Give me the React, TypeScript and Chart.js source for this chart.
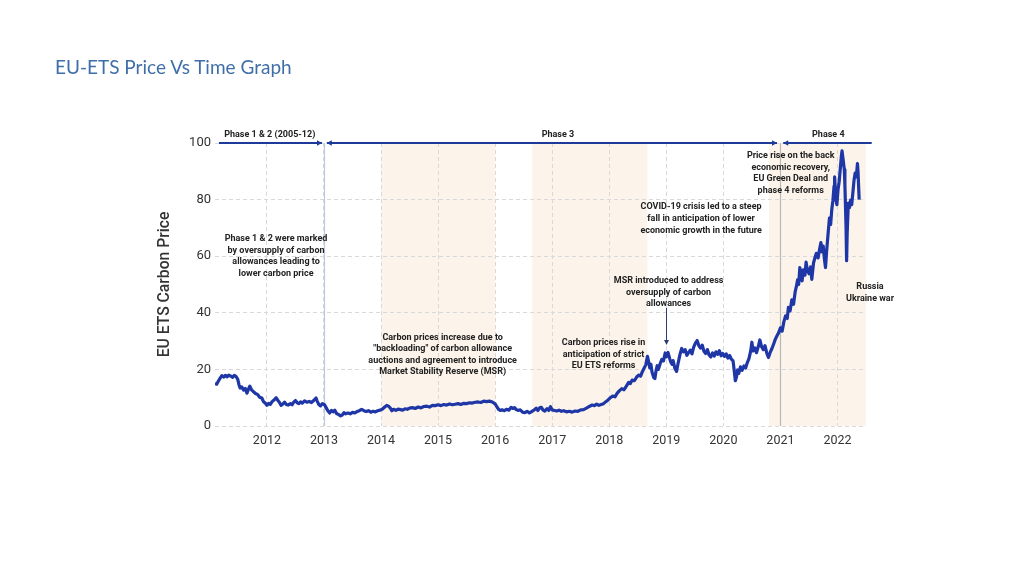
import { useEffect, useRef } from "react";
import { Chart, registerables } from "chart.js";

Chart.register(...registerables);

// ---- Data ----
const years = [
  2011.09, 2011.12, 2011.15, 2011.18, 2011.21, 2011.24, 2011.27, 2011.30, 2011.33, 2011.37,
  2011.40, 2011.43, 2011.46, 2011.49, 2011.51, 2011.53, 2011.56, 2011.59, 2011.62, 2011.65,
  2011.68, 2011.70, 2011.73, 2011.76, 2011.80, 2011.84, 2011.87, 2011.91, 2011.94, 2011.97,
  2012.00, 2012.03, 2012.06, 2012.09, 2012.13, 2012.16, 2012.19, 2012.22, 2012.25, 2012.28,
  2012.31, 2012.34, 2012.37, 2012.41, 2012.44, 2012.47, 2012.50, 2012.53, 2012.56, 2012.59,
  2012.62, 2012.66, 2012.70, 2012.74, 2012.78, 2012.82, 2012.86, 2012.88, 2012.91, 2012.94,
  2012.97, 2013.01, 2013.04, 2013.07, 2013.10, 2013.13, 2013.16, 2013.19, 2013.22, 2013.26,
  2013.29, 2013.32, 2013.35, 2013.38, 2013.42, 2013.46, 2013.50, 2013.54, 2013.58, 2013.62,
  2013.66, 2013.70, 2013.74, 2013.78, 2013.82, 2013.86, 2013.90, 2013.94, 2013.98, 2014.02,
  2014.06, 2014.10, 2014.13, 2014.16, 2014.19, 2014.22, 2014.26, 2014.30, 2014.34, 2014.38,
  2014.42, 2014.46, 2014.50, 2014.55, 2014.60, 2014.65, 2014.70, 2014.75, 2014.80, 2014.85,
  2014.90, 2014.95, 2015.00, 2015.05, 2015.10, 2015.15, 2015.20, 2015.25, 2015.30, 2015.35,
  2015.40, 2015.45, 2015.50, 2015.55, 2015.60, 2015.65, 2015.70, 2015.75, 2015.80, 2015.85,
  2015.90, 2015.95, 2016.00, 2016.03, 2016.06, 2016.09, 2016.12, 2016.16, 2016.20, 2016.24,
  2016.28, 2016.31, 2016.34, 2016.37, 2016.40, 2016.44, 2016.48, 2016.52, 2016.56, 2016.60,
  2016.64, 2016.68, 2016.72, 2016.75, 2016.78, 2016.81, 2016.84, 2016.87, 2016.91, 2016.94,
  2016.97, 2017.00, 2017.04, 2017.08, 2017.12, 2017.16, 2017.20, 2017.25, 2017.30, 2017.35,
  2017.40, 2017.45, 2017.50, 2017.55, 2017.60, 2017.65, 2017.70, 2017.74, 2017.78, 2017.82,
  2017.86, 2017.90, 2017.94, 2017.98, 2018.02, 2018.06, 2018.10, 2018.14, 2018.18, 2018.22,
  2018.26, 2018.30, 2018.34, 2018.37, 2018.40, 2018.44, 2018.48, 2018.52, 2018.55, 2018.58,
  2018.61, 2018.64, 2018.67, 2018.69, 2018.71, 2018.73, 2018.75, 2018.78, 2018.80, 2018.82,
  2018.84, 2018.86, 2018.89, 2018.92, 2018.95, 2018.98, 2019.00, 2019.03, 2019.06, 2019.08,
  2019.10, 2019.12, 2019.15, 2019.18, 2019.21, 2019.24, 2019.27, 2019.30, 2019.33, 2019.36,
  2019.39, 2019.42, 2019.45, 2019.48, 2019.51, 2019.54, 2019.57, 2019.60, 2019.63, 2019.66,
  2019.69, 2019.72, 2019.75, 2019.78, 2019.81, 2019.84, 2019.87, 2019.90, 2019.93, 2019.96,
  2019.99, 2020.02, 2020.05, 2020.08, 2020.11, 2020.14, 2020.17, 2020.19, 2020.21, 2020.23,
  2020.25, 2020.27, 2020.30, 2020.33, 2020.36, 2020.39, 2020.42, 2020.45, 2020.48, 2020.50,
  2020.52, 2020.55, 2020.58, 2020.61, 2020.64, 2020.67, 2020.70, 2020.73, 2020.76, 2020.79,
  2020.82, 2020.85, 2020.88, 2020.91, 2020.94, 2020.97, 2021.00, 2021.03, 2021.06, 2021.09,
  2021.12, 2021.14, 2021.17, 2021.20, 2021.23, 2021.26, 2021.28, 2021.30, 2021.32, 2021.34,
  2021.36, 2021.38, 2021.40, 2021.43, 2021.45, 2021.47, 2021.50, 2021.53, 2021.55, 2021.58,
  2021.61, 2021.63, 2021.66, 2021.69, 2021.71, 2021.73, 2021.75, 2021.77, 2021.79, 2021.81,
  2021.84, 2021.86, 2021.88, 2021.90, 2021.92, 2021.94, 2021.95, 2021.97, 2021.99, 2022.01,
  2022.03, 2022.05, 2022.07, 2022.08, 2022.10, 2022.12, 2022.13, 2022.15, 2022.16, 2022.17,
  2022.19, 2022.21, 2022.23, 2022.25, 2022.27, 2022.29, 2022.31, 2022.33, 2022.35, 2022.36,
  2022.38,
];

const prices = [
  15.0, 14.8, 15.9, 16.9, 17.8, 17.3, 17.9, 17.4, 18.0, 17.6,
  17.2, 17.9, 17.5, 16.4, 14.6, 13.4, 13.8, 12.7, 13.3, 11.6,
  13.2, 14.1, 12.8, 12.2, 11.5, 11.1, 10.2, 9.9, 8.6, 8.1,
  7.3, 8.0, 7.6, 8.6, 9.3, 10.0, 9.1, 8.3, 7.3, 7.8,
  8.4, 7.6, 7.4, 7.9, 7.5, 8.4, 9.0, 8.2, 7.9, 8.5,
  8.1, 8.9, 8.4, 8.7, 8.3, 9.0, 9.9, 8.8, 7.6, 7.1,
  7.9, 7.5, 6.4, 5.3, 4.6, 5.5, 5.0, 5.6, 4.4, 4.0,
  3.6, 3.9, 4.7, 4.3, 4.6, 4.3, 4.8, 4.6, 5.1, 5.4,
  5.9, 5.4, 5.1, 5.4, 4.9, 5.2, 5.0, 5.4, 5.6, 5.9,
  6.6, 7.3, 7.0, 6.4, 5.4, 5.9, 5.5, 6.0, 5.8, 5.6,
  6.1, 5.9, 6.3, 6.5, 6.2, 6.7, 6.4, 6.9, 7.0, 6.7,
  7.3, 7.2, 7.5, 7.2, 7.6, 7.4, 7.8, 7.5, 7.7, 7.9,
  7.6, 8.0, 7.9, 8.2, 8.1, 8.4, 8.5, 8.3, 8.8, 8.6,
  8.8, 8.5, 7.8, 6.8, 5.9, 5.5, 5.7, 5.4, 5.9, 5.6,
  6.6, 6.2, 6.5, 5.8, 5.5, 5.7, 4.9, 4.7, 5.2, 4.6,
  5.1, 5.6, 6.3, 5.5, 6.4, 6.6, 5.6, 5.3, 6.1, 5.5,
  6.8, 5.7, 5.5, 5.3, 5.6, 5.2, 5.4, 5.0, 5.2, 4.9,
  5.3, 5.2, 5.7, 5.8, 6.3, 6.9, 7.4, 7.2, 7.7, 7.3,
  7.6, 7.9, 8.6, 9.2, 10.0, 10.6, 10.3, 11.6, 12.5, 13.2,
  12.8, 14.1, 15.4, 15.0, 16.2, 16.0, 17.3, 18.0, 17.6, 19.2,
  20.4, 21.6, 24.6, 22.8, 20.5, 21.8, 19.0, 17.1, 16.8, 19.5,
  21.3, 20.0, 21.9, 23.5, 23.0, 25.8, 24.4, 26.0, 23.8, 22.5,
  21.8, 23.1, 20.4, 19.3, 22.5, 25.3, 27.4, 26.2, 27.0, 25.0,
  25.9, 26.8, 25.5, 27.9, 29.3, 30.2, 28.4, 27.5, 28.6, 26.4,
  25.6, 27.0, 25.1, 24.4, 25.8, 24.7, 26.2, 25.3, 26.6, 24.8,
  25.6, 24.6, 25.5, 24.0, 24.9, 23.6, 23.0, 19.6, 16.0, 17.3,
  19.8, 18.6, 20.9, 19.7, 21.2, 20.5, 22.4, 23.9, 26.6, 29.6,
  26.5, 27.6, 25.9, 27.9, 30.4, 28.0, 27.0, 28.4, 25.8, 24.2,
  26.0, 27.3, 28.9, 30.6, 31.9, 33.0, 34.7, 33.5, 36.8, 38.9,
  38.0, 41.9, 40.7, 44.6, 43.0, 47.6, 49.3, 51.6, 50.0, 56.0,
  52.7, 51.3, 55.2, 53.3, 57.9, 55.4, 53.8, 56.2, 51.8, 57.6,
  59.8, 61.0, 59.4, 62.9, 64.8, 61.5, 63.6, 59.2, 56.0, 61.8,
  69.0, 73.5, 71.2, 76.5, 79.6, 84.8, 88.0, 80.5, 78.2, 83.6,
  86.4, 91.0, 95.7, 97.2, 94.0, 90.6, 85.2, 70.5, 58.4, 68.0,
  78.8, 77.1, 79.8, 78.2, 82.5, 86.8, 89.4, 88.0, 92.7, 89.9,
  80.0,
];

const xTickYears = [2012, 2013, 2014, 2015, 2016, 2017, 2018, 2019, 2020, 2021, 2022];
const yTickValues = [0, 20, 40, 60, 80, 100];

const shadedBands = [
  [2014.0, 2016.0],
  [2016.65, 2018.67],
  [2020.8, 2022.5],
];
const phaseDividers = [2013, 2021];
const phaseLabels = ["Phase 1 & 2 (2005-12)", "Phase 3", "Phase 4"];
const phaseLabelYears = [2012.05, 2017.1, 2021.84];
const phaseSegments = [
  [2011.16, 2012.965],
  [2013.05, 2020.94],
  [2021.05, 2022.6],
];

const chartTitle = "EU-ETS Price Vs Time Graph";
const yAxisTitle = "EU ETS Carbon Price";

const noteOversupply = ["Phase 1 & 2 were marked", "by oversupply of carbon", "allowances leading to", "lower carbon price"];
const noteBackloading = ["Carbon prices increase due to", "\"backloading\" of carbon allowance", "auctions and agreement to introduce", "Market Stability Reserve (MSR)"];
const noteReforms = ["Carbon prices rise in", "anticipation of strict", "EU ETS reforms"];
const noteMsr = ["MSR introduced to address", "oversupply of carbon", "allowances"];
const noteCovid = ["COVID-19 crisis led to a steep", "fall in anticipation of lower", "economic growth in the future"];
const noteRecovery = ["Price rise on the back", "economic recovery,", "EU Green Deal and", "phase 4 reforms"];
const noteWar = ["Russia", "Ukraine war"];

const notes = [
  { lines: noteOversupply, x: 2012.16, y: 66.1 },
  { lines: noteBackloading, x: 2015.08, y: 31.3 },
  { lines: noteReforms, x: 2017.9, y: 29.4 },
  { lines: noteMsr, x: 2019.04, y: 51.3 },
  { lines: noteCovid, x: 2019.61, y: 77.3 },
  { lines: noteRecovery, x: 2021.18, y: 95.5 },
  { lines: noteWar, x: 2022.57, y: 49.2 },
];
const msrArrow = { x: 2019.0, from: 41.7, to: 28.6 };

const LINE_BLUE = "#1f37a6";

const overlayPlugin = {
  id: "overlay",
  beforeDraw(chart: any) {
    const { ctx, chartArea, scales } = chart;
    const xs = scales.x;
    ctx.save();
    ctx.fillStyle = "rgba(250, 236, 220, 0.6)";
    for (const [a, b] of shadedBands) {
      const x1 = xs.getPixelForValue(a);
      const x2 = xs.getPixelForValue(b);
      ctx.fillRect(x1, chartArea.top, x2 - x1, chartArea.bottom - chartArea.top);
    }
    ctx.restore();
  },
  beforeDatasetsDraw(chart: any) {
    const { ctx, chartArea, scales } = chart;
    const xs = scales.x;
    ctx.save();
    const colors = ["#bccae0", "#b8b8b8"];
    phaseDividers.forEach((v, i) => {
      const x = Math.round(xs.getPixelForValue(v)) + 0.5;
      ctx.strokeStyle = colors[i];
      ctx.lineWidth = 1.2;
      ctx.beginPath();
      ctx.moveTo(x, chartArea.top);
      ctx.lineTo(x, chartArea.bottom);
      ctx.stroke();
    });
    ctx.restore();
  },
  afterDatasetsDraw(chart: any) {
    const { ctx, scales } = chart;
    const xs = scales.x;
    const ys = scales.y;
    ctx.save();
    // phase bar
    const yb = ys.getPixelForValue(100);
    ctx.strokeStyle = "#1d3a9a";
    ctx.fillStyle = "#1d3a9a";
    ctx.lineWidth = 2;
    phaseSegments.forEach(([a, b], i) => {
      const x1 = xs.getPixelForValue(a);
      const x2 = xs.getPixelForValue(b);
      ctx.beginPath();
      ctx.moveTo(x1, yb);
      ctx.lineTo(x2, yb);
      ctx.stroke();
      if (i > 0) {
        ctx.beginPath();
        ctx.moveTo(x1, yb);
        ctx.lineTo(x1 + 5, yb - 2.8);
        ctx.lineTo(x1 + 5, yb + 2.8);
        ctx.closePath();
        ctx.fill();
      }
      if (i < phaseSegments.length - 1) {
        ctx.beginPath();
        ctx.moveTo(x2, yb);
        ctx.lineTo(x2 - 5, yb - 2.8);
        ctx.lineTo(x2 - 5, yb + 2.8);
        ctx.closePath();
        ctx.fill();
      }
    });
    // texts
    ctx.fillStyle = "#222";
    ctx.textAlign = "center";
    ctx.textBaseline = "middle";
    ctx.font = "bold 9px Roboto";
    phaseLabels.forEach((t, i) => {
      ctx.fillText(t, xs.getPixelForValue(phaseLabelYears[i]), yb - 8.5);
    });
    for (const n of notes) {
      const cx = xs.getPixelForValue(n.x);
      const cy = ys.getPixelForValue(n.y);
      n.lines.forEach((l, i) => ctx.fillText(l, cx, cy + i * 11.6));
    }
    // MSR arrow
    const ax = Math.round(xs.getPixelForValue(msrArrow.x)) + 0.5;
    const ay1 = ys.getPixelForValue(msrArrow.from);
    const ay2 = ys.getPixelForValue(msrArrow.to);
    ctx.strokeStyle = "#2c3e70";
    ctx.fillStyle = "#2c3e70";
    ctx.lineWidth = 1;
    ctx.beginPath();
    ctx.moveTo(ax, ay1);
    ctx.lineTo(ax, ay2 - 3);
    ctx.stroke();
    ctx.beginPath();
    ctx.moveTo(ax, ay2);
    ctx.lineTo(ax - 2.5, ay2 - 5);
    ctx.lineTo(ax + 2.5, ay2 - 5);
    ctx.closePath();
    ctx.fill();
    ctx.restore();
  },
};

export default function App() {
  const ref = useRef<HTMLCanvasElement | null>(null);

  useEffect(() => {
    if (!ref.current) return;
    const data = years.map((x, i) => ({ x, y: prices[i] }));
    const chart = new Chart(ref.current, {
      type: "line",
      data: {
        datasets: [
          {
            data,
            borderColor: LINE_BLUE,
            borderWidth: 3.2,
            pointRadius: 0,
            tension: 0,
            fill: false,
            borderJoinStyle: "round",
          },
        ],
      },
      options: {
        responsive: false,
        animation: false,
        layout: { padding: { top: 143, right: 158, bottom: 120, left: 150 } },
        plugins: { legend: { display: false }, tooltip: { enabled: false } },
        scales: {
          x: {
            type: "linear",
            min: 2011.09,
            max: 2022.5,
            afterBuildTicks: (s: any) => {
              s.ticks = xTickYears.map((v) => ({ value: v }));
            },
            afterFit: (s: any) => {
              s.height = 30;
            },
            ticks: {
              callback: (v: any) => String(v),
              color: "#333",
              font: { family: "Roboto", size: 12.5 },
              padding: 7,
              maxRotation: 0,
              autoSkip: false,
            },
            grid: { color: "#d9d9d9", lineWidth: 1, drawTicks: false },
            border: { display: false, dash: [4, 3] },
          },
          y: {
            min: 0,
            max: 100,
            afterBuildTicks: (s: any) => {
              s.ticks = yTickValues.map((v) => ({ value: v }));
            },
            afterFit: (s: any) => {
              s.width = 65;
            },
            ticks: {
              color: "#333",
              font: { family: "Roboto", size: 13 },
              padding: 4,
            },
            grid: { color: "#d9d9d9", lineWidth: 1, drawTicks: false },
            border: { display: false, dash: [4, 3] },
            title: {
              display: true,
              text: yAxisTitle,
              color: "#333",
              font: { family: "Roboto", size: 15.7, weight: "500" },
              padding: { top: 6, bottom: 0 },
            },
          },
        },
      },
      plugins: [overlayPlugin],
    });
    return () => chart.destroy();
  }, []);

  return (
    <div style={{ position: "fixed", left: 0, top: 0, width: 1024, height: 576, background: "#fff" }}>
      <canvas ref={ref} width={1024} height={576} style={{ position: "absolute", left: 0, top: 0 }} />
      <div
        style={{
          position: "absolute",
          left: 55,
          top: 55,
          lineHeight: "24px",
          fontFamily: "Lato, 'Open Sans', sans-serif",
          fontSize: 19,
          color: "#3f6ea9",
          whiteSpace: "nowrap",
        }}
      >
        {chartTitle}
      </div>
    </div>
  );
}
